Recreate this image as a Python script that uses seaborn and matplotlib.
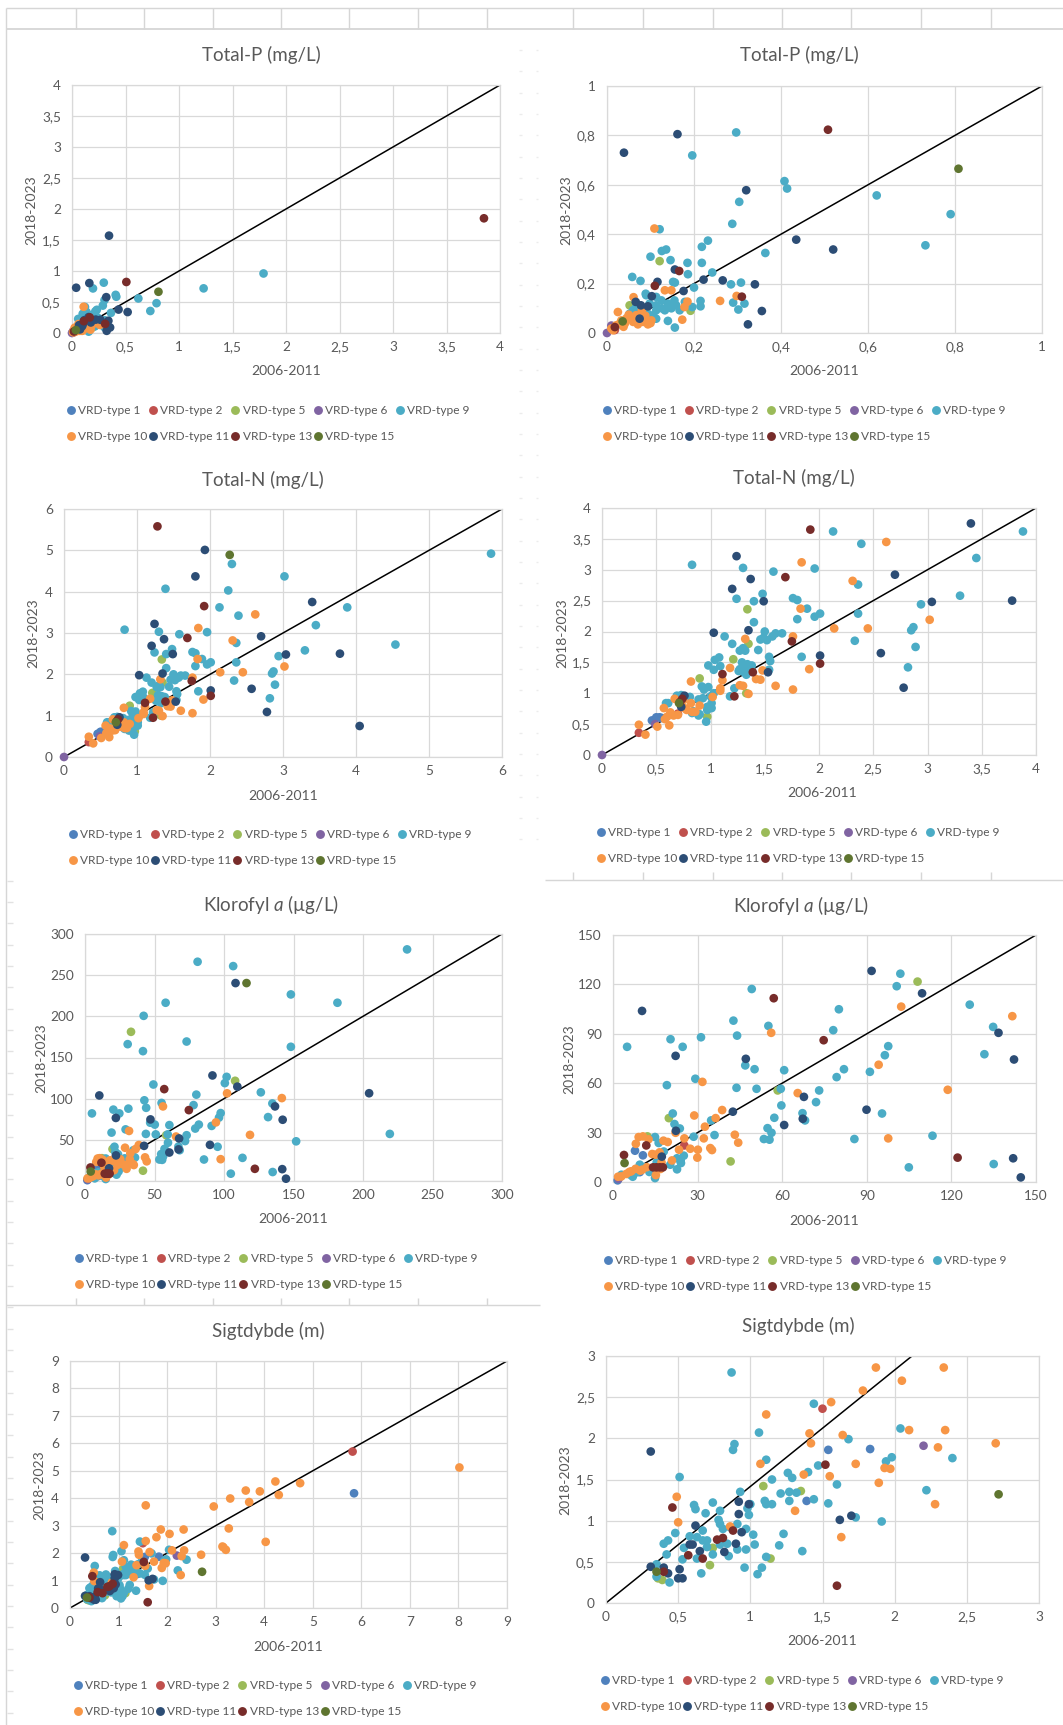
import matplotlib
matplotlib.use("Agg")
import matplotlib.pyplot as plt
from matplotlib.lines import Line2D
from matplotlib.ticker import FixedLocator, FuncFormatter
import numpy as np
import pandas as pd
import seaborn as sns

# ---------------------------------------------------------------- series
TYPES = ["VRD-type 1", "VRD-type 2", "VRD-type 5", "VRD-type 6", "VRD-type 9",
         "VRD-type 10", "VRD-type 11", "VRD-type 13", "VRD-type 15"]
COLORS = ["#4F81BD", "#C0504D", "#9BBB59", "#8064A2", "#4BACC6",
          "#F79646", "#2C4D75", "#772C2A", "#5F7530"]

# ---------------------------------------------------------------- Total-P (mg/L): (2006-2011, 2018-2023)
tp_t1 = [(0.012, 0.018), (0.02, 0.025)]
tp_t2 = [(0.018, 0.012)]
tp_t5 = [(0.121, 0.291), (0.052, 0.112), (0.192, 0.090)]
tp_t6 = [(0.0, 0.0), (0.01, 0.03)]
tp_t9 = [(0.297, 0.812), (0.196, 0.719), (0.408, 0.615), (0.414, 0.585), (0.304, 0.531),
         (0.620, 0.557), (0.790, 0.481), (0.732, 0.355), (0.364, 0.324), (0.288, 0.442),
         (0.121, 0.420), (0.232, 0.374), (0.218, 0.349), (0.136, 0.338), (0.126, 0.332),
         (0.146, 0.295), (0.100, 0.309), (0.185, 0.284), (0.218, 0.284), (0.242, 0.245),
         (0.186, 0.238), (0.058, 0.227), (0.077, 0.211), (0.152, 0.207), (0.156, 0.204),
         (0.200, 0.184), (0.285, 0.197), (0.308, 0.204), (0.089, 0.159), (0.113, 0.146),
         (0.215, 0.130), (0.215, 0.108), (0.196, 0.105), (0.290, 0.123), (0.316, 0.119),
         (0.302, 0.095), (0.140, 0.049), (0.156, 0.022), (0.133, 0.092), (0.159, 0.112),
         (0.155, 0.132), (0.179, 0.126), (0.167, 0.092), (0.140, 0.119), (0.125, 0.132),
         (0.113, 0.112), (0.098, 0.119), (0.090, 0.153), (0.067, 0.105), (0.060, 0.092),
         (0.052, 0.078), (0.083, 0.092), (0.106, 0.072), (0.113, 0.092), (0.094, 0.078),
         (0.071, 0.078), (0.113, 0.058), (0.087, 0.058), (0.148, 0.100), (0.126, 0.100),
         (1.79, 0.96), (1.23, 0.72)]
tp_t10 = [(0.109, 0.423), (0.133, 0.173), (0.148, 0.173), (0.260, 0.130), (0.298, 0.150),
          (0.185, 0.127), (0.178, 0.105), (0.173, 0.054), (0.061, 0.145), (0.025, 0.085),
          (0.080, 0.092), (0.021, 0.031), (0.041, 0.038), (0.052, 0.058), (0.060, 0.045),
          (0.071, 0.035), (0.083, 0.045), (0.090, 0.054), (0.102, 0.051), (0.067, 0.072),
          (0.050, 0.074), (0.014, 0.011), (0.010, 0.018), (0.033, 0.051), (0.094, 0.035),
          (0.075, 0.058), (0.045, 0.060), (0.030, 0.040), (0.088, 0.070), (0.100, 0.040),
          (0.038, 0.025)]
tp_t11 = [(0.039, 0.73), (0.162, 0.805), (0.320, 0.578), (0.435, 0.378), (0.520, 0.338),
          (0.340, 0.197), (0.266, 0.213), (0.222, 0.216), (0.176, 0.170), (0.156, 0.257),
          (0.116, 0.207), (0.103, 0.149), (0.094, 0.108), (0.078, 0.112), (0.066, 0.126),
          (0.075, 0.058), (0.324, 0.035), (0.356, 0.089), (0.346, 1.57)]
tp_t13 = [(0.508, 0.823), (0.110, 0.191), (0.166, 0.251), (0.310, 0.147), (0.018, 0.024),
          (3.85, 1.85)]
tp_t15 = [(0.808, 0.665), (0.036, 0.047)]

# ---------------------------------------------------------------- Total-N (mg/L)
tn_t1 = [(0.46, 0.56), (0.50, 0.61), (0.53, 0.61), (0.55, 0.60)]
tn_t2 = [(0.34, 0.36), (0.70, 0.67)]
tn_t5 = [(1.34, 2.36), (1.35, 1.80), (1.21, 1.55), (0.90, 1.24), (0.97, 0.62), (1.33, 1.00)]
tn_t6 = [(0.0, 0.0), (0.49, 0.50)]
tn_t9 = [(2.13, 3.62), (2.39, 3.42), (3.88, 3.62), (3.45, 3.19), (3.30, 2.58), (2.94, 2.44),
         (2.36, 2.76), (2.36, 2.29), (2.33, 1.85), (2.85, 2.02), (2.87, 2.07), (2.89, 1.75),
         (2.82, 1.42), (1.96, 3.02), (1.96, 2.24), (2.01, 2.29), (1.89, 2.37), (1.80, 2.20),
         (1.76, 2.54), (1.80, 2.51), (1.84, 1.59), (1.58, 2.97), (1.48, 2.61), (1.40, 2.49),
         (1.30, 3.03), (1.24, 2.53), (0.83, 3.08), (1.40, 2.15), (1.50, 2.00), (1.46, 1.87),
         (1.52, 1.86), (1.60, 1.97), (1.57, 1.92), (1.44, 1.70), (1.30, 1.73), (1.27, 1.69),
         (1.20, 1.80), (1.13, 1.92), (1.54, 1.59), (1.55, 1.52), (1.54, 1.38), (1.29, 1.50),
         (1.37, 1.43), (1.27, 1.39), (1.33, 1.30), (1.32, 1.38), (1.22, 1.08), (1.18, 0.95),
         (1.08, 1.58), (1.04, 1.54), (1.09, 1.44), (1.03, 1.38), (0.98, 1.45), (0.98, 1.10),
         (0.92, 1.11), (0.94, 1.06), (1.03, 1.00), (0.89, 0.90), (0.97, 0.78), (0.97, 0.73),
         (0.83, 0.68), (0.89, 0.64), (0.96, 0.54), (0.59, 0.84), (0.69, 0.96), (0.81, 0.94),
         (1.34, 1.47), (1.38, 1.45), (1.31, 1.34), (1.26, 1.36), (1.00, 0.95), (1.01, 0.84),
         (0.93, 0.92), (0.90, 0.66), (0.84, 0.71), (0.73, 0.97), (0.61, 0.84), (1.66, 1.97),
         (1.49, 1.90), (1.32, 1.69), (1.01, 0.76),
         (5.85, 4.92), (4.54, 2.72), (3.02, 4.37), (2.30, 4.67), (2.25, 4.03), (1.39, 4.07)]
tn_t10 = [(2.62, 3.45), (1.84, 3.12), (2.31, 2.82), (1.83, 2.37), (1.76, 1.92), (1.32, 1.88),
          (2.45, 2.05), (2.14, 2.05), (3.02, 2.19), (1.91, 1.39), (1.76, 1.06), (1.60, 1.12),
          (1.42, 1.23), (1.27, 1.13), (1.35, 0.99), (1.18, 1.41), (1.11, 1.21), (1.09, 1.08),
          (1.09, 1.04), (1.02, 0.94), (0.82, 1.19), (0.90, 0.80), (0.82, 0.84), (0.83, 0.70),
          (0.76, 0.76), (0.67, 0.91), (0.57, 0.76), (0.63, 0.69), (0.60, 0.62), (0.66, 0.64),
          (0.58, 0.58), (0.51, 0.46), (0.62, 0.48), (0.34, 0.49), (0.40, 0.33), (1.48, 1.37),
          (0.75, 0.89), (1.46, 1.22), (1.30, 1.12), (0.70, 0.65), (0.78, 0.73), (0.86, 0.70)]
tn_t11 = [(3.40, 3.75), (2.70, 2.92), (3.04, 2.48), (3.78, 2.50), (2.57, 1.65), (2.78, 1.09),
          (2.01, 1.61), (1.53, 1.34), (1.24, 3.22), (1.37, 2.85), (1.20, 2.69), (1.49, 2.49),
          (1.35, 2.02), (1.03, 1.98), (0.76, 0.96), (0.73, 0.78), (4.05, 0.75), (1.93, 5.01),
          (1.80, 4.37)]
tn_t13 = [(1.92, 3.65), (1.69, 2.88), (1.75, 1.84), (2.01, 1.48), (1.39, 1.34), (1.11, 1.31),
          (1.22, 0.95), (0.74, 0.91), (0.72, 0.86), (1.28, 5.58)]
tn_t15 = [(0.71, 0.84), (2.27, 4.89)]

# ---------------------------------------------------------------- Klorofyl a (µg/L)
chl_t1 = [(7.8, 19.0), (10.6, 16.2), (1.65, 1.0), (9.5, 6.0)]
chl_t2 = [(25.3, 22.2)]
chl_t5 = [(108.0, 121.7), (58.4, 55.6), (19.8, 38.8), (12.2, 27.7), (41.7, 12.5), (33.1, 181.2)]
chl_t6 = [(2.0, 2.0)]
chl_t9 = [(101.9, 126.5), (100.6, 118.9), (49.2, 117.2), (80.1, 104.9), (42.7, 98.0),
          (55.1, 94.8), (44.0, 88.9), (78.1, 92.2), (5.0, 82.1), (20.4, 86.7), (24.7, 82.1),
          (31.2, 87.9), (97.6, 82.5), (96.4, 77.0), (126.5, 107.7), (134.8, 94.2),
          (131.7, 77.6), (46.9, 70.8), (50.2, 68.5), (60.7, 67.9), (81.9, 68.5), (79.3, 63.7),
          (91.1, 66.9), (19.1, 58.8), (29.2, 62.7), (43.8, 57.2), (50.9, 56.6), (59.5, 56.6),
          (73.1, 55.6), (72.0, 48.5), (59.7, 46.5), (67.2, 41.8), (68.1, 37.4), (95.4, 41.6),
          (57.2, 39.0), (21.2, 41.6), (34.8, 37.4), (36.0, 28.5), (21.8, 35.2), (23.7, 32.5),
          (54.8, 32.7), (56.2, 29.9), (53.5, 26.1), (55.5, 25.7), (28.6, 27.5), (85.6, 26.1),
          (113.3, 28.1), (104.9, 8.9), (135.0, 10.9), (14.9, 27.3), (16.2, 23.7), (22.7, 7.7),
          (25.1, 16.0), (24.1, 11.5), (22.7, 14.4), (14.9, 2.4), (12.9, 6.1), (20.3, 10.5),
          (6.1, 4.4), (3.0, 4.4), (8.5, 5.9), (7.0, 3.2), (18.0, 18.5), (15.5, 12.0),
          (11.0, 9.0), (24.0, 13.0), (9.5, 10.5),
          (231.7, 281.3), (81.0, 266.3), (106.6, 261.0), (148.1, 226.6), (181.6, 216.5),
          (58.0, 216.5), (42.2, 200.6), (30.7, 166.2), (73.1, 169.4), (41.7, 157.7),
          (148.1, 163.0), (219.3, 57.2), (151.9, 48.2)]
chl_t10 = [(141.6, 100.7), (102.2, 106.5), (56.1, 90.6), (94.2, 71.2), (65.5, 54.0),
           (118.7, 56.0), (97.6, 26.5), (31.7, 60.8), (38.7, 43.7), (28.8, 40.4), (36.4, 38.8),
           (32.6, 33.6), (43.2, 28.7), (44.4, 23.9), (25.3, 26.5), (32.2, 26.5), (27.4, 20.2),
           (30.1, 19.6), (34.5, 20.6), (35.1, 19.4), (29.9, 14.8), (22.2, 29.9), (19.4, 24.3),
           (17.9, 25.1), (9.1, 27.3), (10.6, 27.7), (8.1, 23.2), (12.6, 25.9), (13.9, 17.0),
           (16.5, 18.0), (20.9, 13.1), (17.2, 11.9), (16.8, 7.9), (15.2, 4.2), (9.7, 6.9),
           (5.8, 6.1), (4.7, 4.9), (1.8, 3.2), (23.4, 19.6), (15.1, 16.6), (10.4, 7.5),
           (6.5, 6.5), (2.95, 3.4), (12.0, 9.0), (8.0, 8.0)]
chl_t11 = [(91.7, 128.2), (109.6, 114.6), (10.3, 103.9), (22.2, 76.6), (47.1, 74.8),
           (67.7, 51.7), (67.3, 38.4), (42.5, 42.7), (60.7, 34.6), (89.9, 43.9), (136.7, 90.6),
           (142.2, 74.4), (141.9, 14.4), (144.6, 2.8), (22.3, 31.1), (17.3, 15.4),
           (108.3, 240.4), (204.4, 106.6)]
chl_t13 = [(57.0, 111.6), (74.7, 86.1), (122.2, 14.8), (11.8, 22.2), (3.9, 16.4),
           (14.2, 8.9), (15.4, 8.9), (16.6, 8.9), (17.7, 8.9)]
chl_t15 = [(4.1, 11.5), (116.2, 240.4)]

# ---------------------------------------------------------------- Sigtdybde (m)
sd_t1 = [(1.54, 1.86), (1.83, 1.87), (1.39, 1.24), (5.85, 4.18)]
sd_t2 = [(1.50, 2.36), (5.82, 5.70)]
sd_t5 = [(1.09, 1.42), (1.35, 1.36), (0.74, 0.67), (0.72, 0.46), (1.14, 0.54), (0.36, 0.30),
         (0.39, 0.28)]
sd_t6 = [(2.20, 1.91)]
sd_t9 = [(0.87, 2.80), (1.44, 2.42), (1.06, 2.07), (0.89, 1.93), (0.88, 1.86), (1.11, 1.74),
         (2.04, 2.12), (1.68, 1.99), (1.98, 1.77), (1.94, 1.72), (2.40, 1.76), (2.22, 1.37),
         (1.91, 0.99), (1.73, 1.04), (0.51, 1.53), (1.47, 1.67), (1.40, 1.59), (1.26, 1.58),
         (1.29, 1.52), (1.15, 1.50), (1.60, 1.44), (0.93, 1.35), (1.21, 1.33), (1.27, 1.35),
         (1.32, 1.34), (1.27, 1.24), (1.44, 1.26), (1.54, 1.21), (1.10, 1.24), (1.11, 1.20),
         (1.15, 1.20), (0.74, 1.22), (0.61, 1.19), (0.62, 1.14), (0.69, 1.09), (0.79, 1.12),
         (1.00, 1.20), (0.98, 1.15), (0.99, 1.07), (0.78, 1.01), (0.79, 0.96), (0.86, 0.92),
         (0.91, 0.96), (0.97, 0.90), (0.67, 0.88), (0.81, 0.90), (0.48, 0.85), (0.58, 0.81),
         (0.63, 0.80), (0.43, 0.76), (0.40, 0.72), (1.02, 0.83), (1.23, 0.84), (0.67, 0.76),
         (0.70, 0.76), (0.84, 0.72), (0.79, 0.71), (0.70, 0.68), (0.91, 0.65), (0.97, 0.65),
         (1.03, 0.71), (1.20, 0.70), (0.54, 0.67), (0.42, 0.59), (0.74, 0.59), (0.85, 0.57),
         (0.53, 0.53), (0.63, 0.54), (1.11, 0.56), (1.36, 0.63), (0.96, 0.43), (1.08, 0.43),
         (0.66, 0.36), (1.05, 0.35), (0.35, 0.47), (0.35, 0.32), (0.44, 0.25)]
sd_t10 = [(1.87, 2.86), (2.34, 2.86), (2.05, 2.70), (1.78, 2.58), (1.56, 2.44), (1.11, 2.29),
          (1.41, 2.06), (1.42, 1.94), (1.64, 2.04), (2.10, 2.10), (2.35, 2.10), (2.30, 1.89),
          (2.70, 1.94), (1.07, 1.69), (1.73, 1.69), (1.37, 1.56), (1.55, 1.54), (1.93, 1.64),
          (1.97, 1.63), (1.89, 1.46), (2.28, 1.20), (1.31, 1.12), (1.63, 0.80), (0.49, 1.29),
          (0.50, 0.98), (0.86, 0.93),
          (8.02, 5.12), (4.74, 4.55), (4.23, 4.61), (4.30, 4.12), (3.91, 4.25), (3.62, 4.28),
          (3.69, 3.86), (3.30, 3.99), (2.96, 3.70), (1.56, 3.74), (3.27, 2.90), (4.03, 2.41),
          (3.14, 2.24), (3.16, 2.21), (3.21, 2.12)]
sd_t11 = [(0.31, 1.84), (0.92, 1.23), (0.99, 1.20), (0.92, 1.08), (0.62, 0.94), (0.94, 0.86),
          (0.90, 0.72), (0.82, 0.62), (0.65, 0.63), (0.58, 0.71), (1.62, 1.01), (1.70, 1.06),
          (0.31, 0.44), (0.40, 0.43), (0.43, 0.36), (0.51, 0.41), (0.50, 0.30), (0.53, 0.30),
          (0.60, 0.71)]
sd_t13 = [(0.46, 1.16), (1.52, 1.68), (1.60, 0.21), (0.77, 0.77), (0.81, 0.79), (0.88, 0.88),
          (0.57, 0.58), (0.67, 0.54), (0.40, 0.38)]
sd_t15 = [(2.72, 1.32), (0.35, 0.38)]

# reference lines (x-values, y-values)
one_to_one = ([0.0, 1.0], [0.0, 1.0])
sd_zoom_line = ([0.0, 2.12], [0.0, 3.0])

TP = [tp_t1, tp_t2, tp_t5, tp_t6, tp_t9, tp_t10, tp_t11, tp_t13, tp_t15]
TN = [tn_t1, tn_t2, tn_t5, tn_t6, tn_t9, tn_t10, tn_t11, tn_t13, tn_t15]
CHL = [chl_t1, chl_t2, chl_t5, chl_t6, chl_t9, chl_t10, chl_t11, chl_t13, chl_t15]
SD = [sd_t1, sd_t2, sd_t5, sd_t6, sd_t9, sd_t10, sd_t11, sd_t13, sd_t15]


def to_frame(groups):
    rows = []
    for name, pts in zip(TYPES, groups):
        for x, y in pts:
            rows.append({"x": x, "y": y, "type": name})
    return pd.DataFrame(rows)


# ---------------------------------------------------------------- style
sns.set_theme(style="white")
plt.rcParams["font.family"] = ["Lato", "DejaVu Sans"]
plt.rcParams["mathtext.fontset"] = "custom"
plt.rcParams["mathtext.rm"] = "Lato"
plt.rcParams["mathtext.it"] = "Lato:italic"

W, H = 1063, 1725
TXT = "#595959"
GRID = "#D9D9D9"
SHEET = "#D6D6D6"
PALETTE = dict(zip(TYPES, COLORS))

fig = plt.figure(figsize=(W / 100, H / 100), dpi=100)
fig.patch.set_facecolor("white")


def fx(px):
    return px / W


def fy(py):
    return 1 - py / H


def sheet_line(x0, y0, x1, y1, color=SHEET, lw=1.0):
    fig.add_artist(Line2D([fx(x0), fx(x1)], [fy(y0), fy(y1)], transform=fig.transFigure,
                          color=color, lw=lw, solid_capstyle="butt"))


# spreadsheet cells around the charts
sheet_line(6, 8, W, 8)
sheet_line(6, 29, W, 29, lw=1.3)
for cx in [76, 144, 213, 281, 349, 418, 487, 573, 643, 713, 782, 851, 921, 991]:
    sheet_line(cx, 8, cx, 29)
sheet_line(6, 8, 6, H)
sheet_line(545, 880, W, 880)
for cx in [573, 643, 713, 782, 851, 921, 991]:
    sheet_line(cx, 872, cx, 880)
sheet_line(6, 1305, 540, 1305)
for cx in [76, 144, 213, 281, 349, 418, 487]:
    sheet_line(cx, 1298, cx, 1305)
for ry in np.arange(880.7, H, 21.33):
    sheet_line(7, ry, 13, ry, color="#E2E2E2")
for ry in np.arange(50, 860, 21.33):
    sheet_line(519, ry, 522, ry, color="#ECECEC")
    sheet_line(536, ry, 538, ry, color="#ECECEC")

# ---------------------------------------------------------------- panels
PANELS = [
    dict(data=TP, lim=4, step=0.5, box=(72, 85, 500, 333), title="Total-P (mg/L)",
         t=(261, 55), yl=(31, 210), xl=(286, 371), leg=(67, 411), line=one_to_one),
    dict(data=TP, lim=1, step=0.2, box=(607, 86, 1042, 333), title="Total-P (mg/L)",
         t=(799, 55), yl=(566, 210), xl=(824, 371), leg=(603, 411), line=one_to_one),
    dict(data=TN, lim=6, step=1, box=(64, 509, 502, 757), title="Total-N (mg/L)",
         t=(263, 480), yl=(33, 633), xl=(283, 796), leg=(69, 835), line=one_to_one),
    dict(data=TN, lim=4, step=0.5, box=(602, 508, 1036, 755), title="Total-N (mg/L)",
         t=(794, 478), yl=(562, 633), xl=(822, 793), leg=(597, 833), line=one_to_one),
    dict(data=CHL, lim=300, step=50, box=(85, 934, 502, 1181), title=r"Klorofyl $a$ (µg/L)",
         t=(271, 904), yl=(41, 1058), xl=(293, 1219), leg=(75, 1259), line=one_to_one),
    dict(data=CHL, lim=150, step=30, box=(613, 935, 1036, 1182), title=r"Klorofyl $a$ (µg/L)",
         t=(801, 905), yl=(569, 1059), xl=(824, 1221), leg=(604, 1261), line=one_to_one),
    dict(data=SD, lim=9, step=1, box=(70, 1361, 507, 1608), title="Sigtdybde (m)",
         t=(268, 1331), yl=(39, 1485), xl=(288, 1647), leg=(74, 1686), line=one_to_one),
    dict(data=SD, lim=3, step=0.5, box=(606, 1356, 1039, 1603), title="Sigtdybde (m)",
         t=(798, 1326), yl=(565, 1480), xl=(822, 1641), leg=(601, 1681), line=sd_zoom_line),
]

comma = FuncFormatter(lambda v, _: f"{v:g}".replace(".", ","))
legend_order = [0, 5, 1, 6, 2, 7, 3, 8, 4]

for p in PANELS:
    l, t, r, b = p["box"]
    ax = fig.add_axes([fx(l), fy(b), fx(r) - fx(l), fy(t) - fy(b)])
    lim = p["lim"]
    df = to_frame(p["data"])
    shown = df[(df["x"] <= lim * 1.001) & (df["y"] <= lim * 1.001)]

    lx, ly = p["line"]
    scale = lim if p["line"] is one_to_one else 1.0
    ax.plot(np.array(lx) * scale, np.array(ly) * scale, color="black", lw=1.1,
            zorder=2, solid_capstyle="butt")

    sns.scatterplot(data=shown, x="x", y="y", hue="type", hue_order=TYPES,
                    palette=PALETTE, s=39, linewidth=0, alpha=1.0, ax=ax,
                    legend=False, clip_on=False, zorder=3)

    ticks = np.round(np.arange(0, lim + p["step"] / 2, p["step"]), 6)
    ax.set_xlim(0, lim)
    ax.set_ylim(0, lim)
    ax.xaxis.set_major_locator(FixedLocator(ticks))
    ax.yaxis.set_major_locator(FixedLocator(ticks))
    ax.xaxis.set_major_formatter(comma)
    ax.yaxis.set_major_formatter(comma)
    ax.tick_params(axis="both", length=0, labelsize=9.8, colors=TXT)
    ax.tick_params(axis="x", pad=6)
    ax.tick_params(axis="y", pad=8)
    ax.grid(True, color=GRID, lw=0.9)
    ax.set_axisbelow(True)
    for sp in ax.spines.values():
        sp.set_color(GRID)
        sp.set_linewidth(0.9)
    ax.set_xlabel("")
    ax.set_ylabel("")
    ax.set_facecolor("white")

    fig.text(fx(p["t"][0]), fy(p["t"][1]), p["title"], ha="center", va="center",
             fontsize=13.5, color=TXT)
    fig.text(fx(p["yl"][0]), fy(p["yl"][1]), "2018-2023", ha="center", va="center",
             rotation=90, fontsize=10, color=TXT)
    fig.text(fx(p["xl"][0]), fy(p["xl"][1]), "2006-2011", ha="center", va="center",
             fontsize=10, color=TXT)

    handles = [Line2D([], [], ls="", marker="o", ms=6.4, mfc=c, mec=c, mew=0)
               for c in COLORS]
    ax.legend([handles[i] for i in legend_order], [TYPES[i] for i in legend_order],
              ncol=5, loc="center left",
              bbox_to_anchor=(fx(p["leg"][0]), fy(p["leg"][1] + 12.5)),
              bbox_transform=fig.transFigure, frameon=False, fontsize=8.6,
              labelcolor=TXT, handlelength=0.6, handletextpad=0.3,
              columnspacing=0.2, labelspacing=1.25, borderpad=0, borderaxespad=0)

fig.savefig("out.png", dpi=100, facecolor="white")
